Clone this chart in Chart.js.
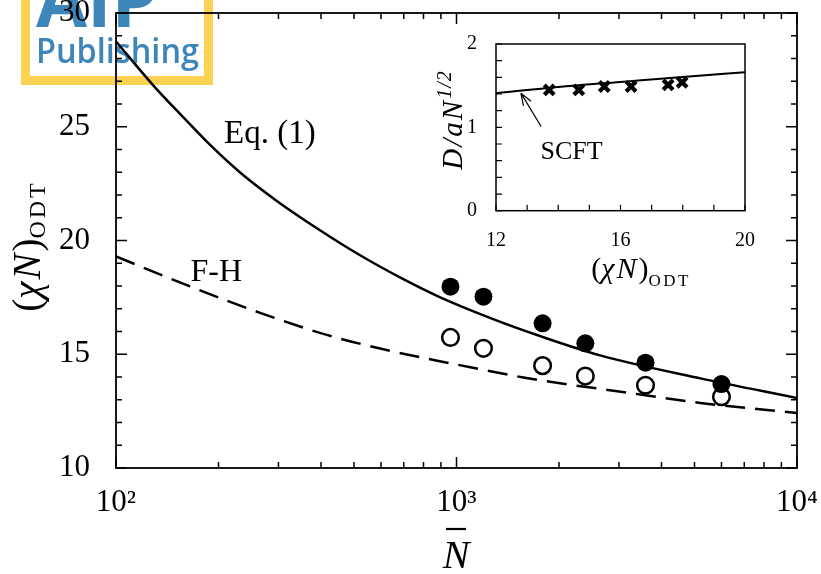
<!DOCTYPE html>
<html>
<head>
<meta charset="utf-8">
<script src="https://cdn.jsdelivr.net/npm/chart.js@4.4.0/dist/chart.umd.min.js"></script>
<style>
  html, body { margin: 0; padding: 0; background: #fff; }
  #wrap { position: relative; width: 821px; height: 574px; overflow: hidden; }
  #main { position: absolute; left: 0; top: 0; }
  #inset { position: absolute; left: 400px; top: 30px; }
</style>
</head>
<body>
<div id="wrap">
  <canvas id="main" width="821" height="574"></canvas>
  <canvas id="inset" width="400" height="260"></canvas>
</div>
<script>
// main panel: (chi N)_ODT against N-bar
const eqN = [100, 129, 158, 189, 231, 296, 388, 521, 698, 896, 1253, 1758, 2642, 5200, 10000];
const eqY = [28.75, 26.8, 25.4, 24.2, 23.0, 21.75, 20.55, 19.35, 18.3, 17.5, 16.6, 15.8, 14.95, 13.94, 13.08];
const fhN = [100, 165, 265, 416, 652, 1000, 1571, 2203, 2728, 3585, 5200, 10000];
const fhY = [19.3, 17.98, 16.82, 15.85, 15.12, 14.55, 13.98, 13.64, 13.45, 13.2, 12.86, 12.42];
const simN = [960, 1200, 1790, 2390, 3590, 6000];
const filledY = [17.97, 17.53, 16.36, 15.48, 14.63, 13.69];
const openY = [15.74, 15.26, 14.50, 14.04, 13.64, 13.13];
const xMajorVals = [100, 1000, 10000];
const xMajorLabels = ['10²', '10³', '10⁴'];
const yLabelVals = [10, 15, 20, 25, 30];

// inset: D/aN^1/2 against (chi N)_ODT
const insetChi = [13.71, 14.66, 15.48, 16.34, 17.53, 17.98];
const insetD = [1.45, 1.45, 1.49, 1.49, 1.51, 1.54];
const scftChi = [12, 14, 16, 18, 20];
const scftD = [1.41, 1.485, 1.545, 1.605, 1.66];
const insetXLabels = [12, 16, 20];
const insetYLabels = [0, 1, 2];

const SERIF = '"Liberation Serif", "Times New Roman", serif';

function pts(xs, ys) { return xs.map((x, i) => ({ x: x, y: ys[i] })); }

let xTickVals = [];
[100, 1000].forEach(d => { for (let k = 1; k < 10; k++) xTickVals.push(d * k); });
xTickVals.push(10000);
let yTickVals = [];
for (let v = 10; v <= 30; v++) yTickVals.push(v);

// draw a run of text pieces (different fonts / offsets) from x
function drawParts(ctx, parts, x, y, align) {
  let total = 0;
  parts.forEach(p => {
    ctx.font = p.font; ctx.letterSpacing = (p.ls || 0) + 'px';
    p.w = ctx.measureText(p.t).width;
    total += p.w;
  });
  let cx = align === 'center' ? x - total / 2 : x;
  parts.forEach(p => {
    ctx.font = p.font; ctx.letterSpacing = (p.ls || 0) + 'px';
    ctx.fillText(p.t, cx, y + (p.dy || 0));
    cx += p.w;
  });
  ctx.letterSpacing = '0px';
}

function frameTicks(cfg) {
  return {
    id: 'frameTicks',
    afterDatasetsDraw(chart) {
      const ctx = chart.ctx, a = chart.chartArea;
      const xs = chart.scales.x, ys = chart.scales.y;
      ctx.save();
      ctx.strokeStyle = '#000';
      ctx.lineWidth = cfg.tickWidth;
      ctx.beginPath();
      xs.ticks.forEach(t => {
        const p = xs.getPixelForValue(t.value);
        const len = cfg.xMajor(t.value) ? cfg.major : cfg.minor;
        ctx.moveTo(p, a.bottom); ctx.lineTo(p, a.bottom - len);
        if (cfg.both) { ctx.moveTo(p, a.top); ctx.lineTo(p, a.top + len); }
      });
      ys.ticks.forEach(t => {
        const p = ys.getPixelForValue(t.value);
        const len = cfg.yMajor(t.value) ? cfg.major : cfg.minor;
        ctx.moveTo(a.left, p); ctx.lineTo(a.left + len, p);
        if (cfg.both) { ctx.moveTo(a.right, p); ctx.lineTo(a.right - len, p); }
      });
      ctx.stroke();
      ctx.lineWidth = cfg.frameWidth;
      ctx.strokeRect(a.left, a.top, a.right - a.left, a.bottom - a.top);
      ctx.restore();
    }
  };
}

const logoPlugin = {
  id: 'logo',
  beforeDraw(chart) {
    const ctx = chart.ctx;
    ctx.save();
    ctx.strokeStyle = '#FDD152';
    ctx.lineWidth = 9;
    ctx.strokeRect(25.5, -20, 183, 100.5);
    ctx.fillStyle = '#3E86B9';
    ctx.textBaseline = 'alphabetic';
    ctx.font = '600 35px "Open Sans", Roboto, sans-serif';
    ctx.fillText('Publishing', 36, 63, 163);
    ctx.font = 'bold 74px "Open Sans", Roboto, sans-serif';
    ctx.fillText('AIP', 36, 27, 138);
    ctx.restore();
  }
};

const mainText = {
  id: 'mainText',
  afterDraw(chart) {
    const ctx = chart.ctx;
    const xs = chart.scales.x, ys = chart.scales.y;
    ctx.save();
    ctx.fillStyle = '#000';
    ctx.textBaseline = 'alphabetic';
    // y title, rotated
    ctx.save();
    ctx.translate(40, 246);
    ctx.rotate(-Math.PI / 2);
    drawParts(ctx, [
      { t: '(', font: '39px ' + SERIF },
      { t: 'χN', font: 'italic 39px ' + SERIF, ls: 2 },
      { t: ')', font: '39px ' + SERIF },
      { t: 'ODT', font: '24px ' + SERIF, dy: 5, ls: 3 }
    ], 0, 0, 'center');
    ctx.restore();
    // x title N-bar
    ctx.font = 'italic 40px ' + SERIF;
    ctx.textAlign = 'center';
    ctx.fillText('N', 456, 568);
    ctx.lineWidth = 2.2;
    ctx.beginPath(); ctx.moveTo(446, 529); ctx.lineTo(466, 529); ctx.stroke();
    // curve labels
    ctx.textBaseline = 'middle';
    ctx.font = '33px ' + SERIF;
    ctx.fillText('Eq. (1)', xs.getPixelForValue(283), ys.getPixelForValue(24.68));
    ctx.font = '32px ' + SERIF;
    ctx.fillText('F-H', xs.getPixelForValue(197), ys.getPixelForValue(18.59));
    ctx.restore();
  }
};

new Chart(document.getElementById('main'), {
  type: 'scatter',
  data: {
    datasets: [
      { label: 'Eq. (1)', data: pts(eqN, eqY), showLine: true, borderColor: '#000', borderWidth: 2.5,
        pointRadius: 0, cubicInterpolationMode: 'monotone', order: 3 },
      { label: 'F-H', data: pts(fhN, fhY), showLine: true, borderColor: '#000', borderWidth: 2.5,
        borderDash: [20, 10], pointRadius: 0, cubicInterpolationMode: 'monotone', order: 4 },
      { label: 'filled', data: pts(simN, filledY), pointRadius: 9, pointBackgroundColor: '#000',
        pointBorderColor: '#000', pointBorderWidth: 0, order: 1 },
      { label: 'open', data: pts(simN, openY), pointRadius: 8.3, pointBackgroundColor: '#fff',
        pointBorderColor: '#000', pointBorderWidth: 2.5, order: 2 }
    ]
  },
  options: {
    responsive: false,
    animation: false,
    events: [],
    layout: { padding: { left: 0, right: 24, top: 13, bottom: 0 } },
    plugins: { legend: { display: false }, tooltip: { enabled: false } },
    scales: {
      x: {
        type: 'logarithmic', min: 100, max: 10000,
        afterBuildTicks: s => { s.ticks = xTickVals.map(v => ({ value: v })); },
        afterFit: s => { s.height = 106; s.paddingLeft = 0; s.paddingRight = 0; },
        grid: { display: false }, border: { display: false },
        ticks: {
          autoSkip: false, maxRotation: 0, padding: 8, color: '#000',
          font: { family: SERIF, size: 31 },
          callback: v => { const i = xMajorVals.indexOf(v); return i >= 0 ? xMajorLabels[i] : ''; }
        }
      },
      y: {
        type: 'linear', min: 10, max: 30,
        afterBuildTicks: s => { s.ticks = yTickVals.map(v => ({ value: v })); },
        afterFit: s => { s.width = 116; s.paddingTop = 0; s.paddingBottom = 0; },
        grid: { display: false }, border: { display: false },
        ticks: {
          autoSkip: false, padding: 18, color: '#000',
          font: { family: SERIF, size: 31 },
          callback: v => yLabelVals.includes(v) ? String(v) : ''
        }
      }
    }
  },
  plugins: [logoPlugin, frameTicks({
    tickWidth: 1.5, frameWidth: 1.8, major: 11, minor: 6, both: true,
    xMajor: v => xMajorVals.includes(v), yMajor: v => v % 5 === 0
  }), mainText]
});

const insetText = {
  id: 'insetText',
  afterDraw(chart) {
    const ctx = chart.ctx;
    const xs = chart.scales.x, ys = chart.scales.y;
    ctx.save();
    ctx.fillStyle = '#000';
    ctx.strokeStyle = '#000';
    ctx.textBaseline = 'alphabetic';
    // y title
    ctx.save();
    ctx.translate(62, 90);
    ctx.rotate(-Math.PI / 2);
    drawParts(ctx, [
      { t: 'D/aN', font: 'italic 29px ' + SERIF, ls: 2 },
      { t: '1/2', font: 'italic 20px ' + SERIF, dy: -11, ls: 1 }
    ], 0, 0, 'center');
    ctx.restore();
    // x title
    drawParts(ctx, [
      { t: '(', font: '30px ' + SERIF },
      { t: 'χN', font: 'italic 30px ' + SERIF, ls: 2 },
      { t: ')', font: '30px ' + SERIF },
      { t: 'ODT', font: '17px ' + SERIF, dy: 8, ls: 2.5 }
    ], 241, 248, 'center');
    // SCFT label and arrow
    ctx.font = '26px ' + SERIF;
    ctx.textAlign = 'center';
    ctx.textBaseline = 'middle';
    ctx.fillText('SCFT', xs.getPixelForValue(14.43), ys.getPixelForValue(0.708));
    const x0 = xs.getPixelForValue(13.45), y0 = ys.getPixelForValue(1.01);
    const x1 = xs.getPixelForValue(12.80), y1 = ys.getPixelForValue(1.41);
    ctx.lineWidth = 1.2;
    ctx.beginPath(); ctx.moveTo(x0, y0); ctx.lineTo(x1, y1);
    const ang = Math.atan2(y1 - y0, x1 - x0);
    [0.35, -0.35].forEach(d => {
      ctx.moveTo(x1, y1);
      ctx.lineTo(x1 - 13 * Math.cos(ang + d), y1 - 13 * Math.sin(ang + d));
    });
    ctx.stroke();
    ctx.restore();
  }
};

let insetXTicks = [];
for (let v = 12; v <= 20; v++) insetXTicks.push(v);
let insetYTicks = [];
for (let v = 0; v <= 10; v++) insetYTicks.push(v / 5);

new Chart(document.getElementById('inset'), {
  type: 'scatter',
  data: {
    datasets: [
      { label: 'SCFT', data: pts(scftChi, scftD), showLine: true, borderColor: '#000', borderWidth: 2,
        pointRadius: 0, cubicInterpolationMode: 'monotone', order: 2 },
      { label: 'sim', data: pts(insetChi, insetD), pointStyle: 'crossRot', pointRadius: 7,
        pointBorderColor: '#000', pointBorderWidth: 4.2, order: 1 }
    ]
  },
  options: {
    responsive: false,
    animation: false,
    events: [],
    layout: { padding: { left: 0, right: 55, top: 14, bottom: 0 } },
    plugins: { legend: { display: false }, tooltip: { enabled: false } },
    scales: {
      x: {
        type: 'linear', min: 12, max: 20,
        afterBuildTicks: s => { s.ticks = insetXTicks.map(v => ({ value: v })); },
        afterFit: s => { s.height = 79.3; s.paddingLeft = 0; s.paddingRight = 0; },
        grid: { display: false }, border: { display: false },
        ticks: {
          autoSkip: false, maxRotation: 0, padding: 10, color: '#000',
          font: { family: SERIF, size: 20 },
          callback: v => insetXLabels.includes(v) ? String(v) : ''
        }
      },
      y: {
        type: 'linear', min: 0, max: 2,
        afterBuildTicks: s => { s.ticks = insetYTicks.map(v => ({ value: v })); },
        afterFit: s => { s.width = 96; s.paddingTop = 0; s.paddingBottom = 0; },
        grid: { display: false }, border: { display: false },
        ticks: {
          autoSkip: false, padding: 11, color: '#000',
          font: { family: SERIF, size: 20 },
          callback: v => insetYLabels.includes(v) ? String(v) : ''
        }
      }
    }
  },
  plugins: [frameTicks({
    tickWidth: 1.2, frameWidth: 1.5, major: 6, minor: 6, both: false,
    xMajor: v => true, yMajor: v => true
  }), insetText]
});
</script>
</body>
</html>
